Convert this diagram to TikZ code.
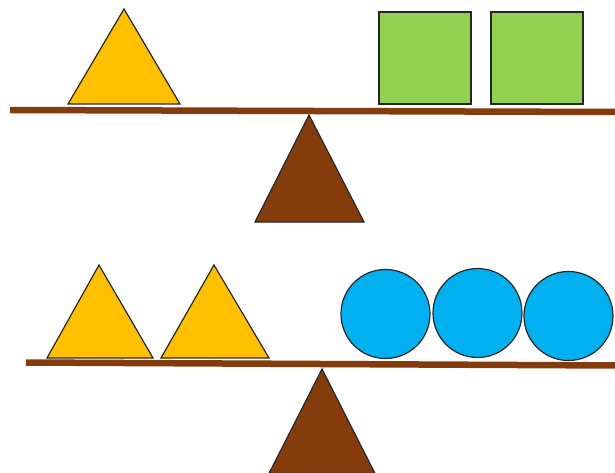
\documentclass[tikz,border=0pt]{standalone}
\definecolor{gold}{HTML}{FFC000}
\definecolor{leaf}{HTML}{92D050}
\definecolor{sky}{HTML}{00B0F0}
\definecolor{wood}{HTML}{843C0C}
\begin{document}
\begin{tikzpicture}[x=1pt,y=-1pt,
  shapeline/.style={draw=black!85,line width=1.2pt,line join=miter},
  beam/.style={draw=wood,line width=6.5pt},
  tri/.style={shapeline,fill=gold},
  sq/.style={shapeline,fill=leaf},
  ball/.style={shapeline,fill=sky},
  fulcrum/.style={shapeline,fill=wood}]
\useasboundingbox (0,0) rectangle (615,473);
\begin{scope}
\clip (0,0) rectangle (615,473);
% top balance
\coordinate (b1l) at (10,110);
\coordinate (b1r) at (616,112);
\draw[beam] (b1l) -- (b1r);
\draw[tri] (124,9) -- (180,104) -- (68,104) -- cycle;
\draw[sq] (379,12) rectangle (471,104);
\draw[sq] (491,12) rectangle (583,104);
\draw[fulcrum] (309,115) -- (364,222) -- (255,222) -- cycle;
% bottom balance
\coordinate (b2l) at (26,362.5);
\coordinate (b2r) at (616,365.5);
\draw[beam] (b2l) -- (b2r);
\draw[tri] (99,265) -- (153,358) -- (47,358) -- cycle;
\draw[tri] (214,265) -- (269,358) -- (161,358) -- cycle;
\draw[ball] (385.5,314) circle (44.5);
\draw[ball] (477.5,313) circle (44.5);
\draw[ball] (568.5,316) circle (44.5);
\draw[fulcrum] (322,369) -- (375,473.5) -- (269,473.5) -- cycle;
\end{scope}
\end{tikzpicture}
\end{document}
